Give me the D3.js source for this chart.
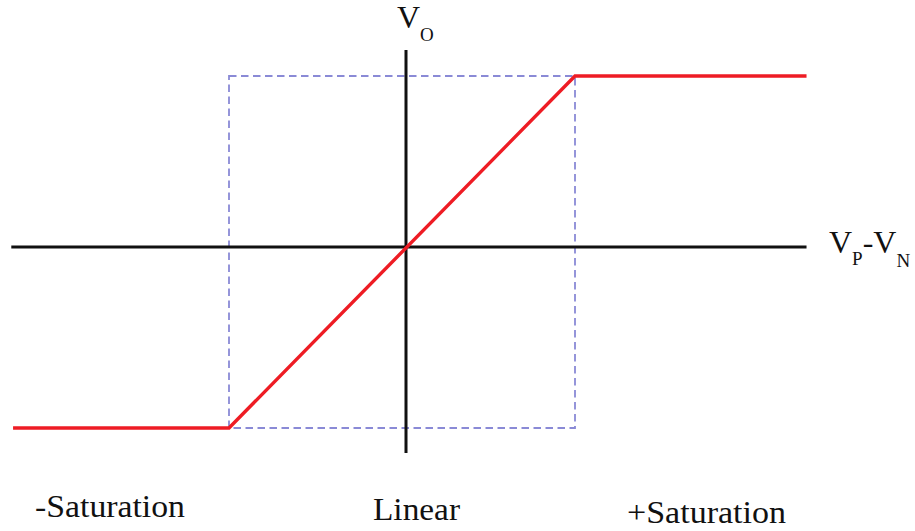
<!DOCTYPE html>
<html>
<head>
<meta charset="utf-8">
<script src="https://cdn.jsdelivr.net/npm/d3@7"></script>
<style>
  html, body { margin: 0; padding: 0; background: #fff; }
  svg { display: block; }
  text { font-family: "Liberation Serif", "Times New Roman", serif; fill: #111; }
</style>
</head>
<body>
<svg id="chart" width="915" height="531"></svg>
<script>
// ---- data (input difference vs. output, normalized units) ----
const transferX = [-2.22, -1, 1, 2.37];   // Vp - Vn
const transferY = [-1, -1, 1, 1];         // Vo
const linearRegionX = [-1, 1];
const linearRegionY = [-1, 1];
const xAxisExtent = [-2.23, 2.37];
const yAxisExtent = [-1.138, 1.152];
const regionLabels = ["-Saturation", "Linear", "+Saturation"];

const svg = d3.select("#chart");
const x = d3.scaleLinear().domain([-1, 0, 1]).range([229, 406, 575]);
const y = d3.scaleLinear().domain([-1, 0, 1]).range([428, 247, 76]);

// dashed linear-region box
svg.append("rect")
  .attr("x", x(linearRegionX[0]))
  .attr("y", y(linearRegionY[1]))
  .attr("width", x(linearRegionX[1]) - x(linearRegionX[0]))
  .attr("height", y(linearRegionY[0]) - y(linearRegionY[1]))
  .attr("fill", "none")
  .attr("stroke", "#8a8ad6")
  .attr("stroke-width", 1.8)
  .attr("stroke-dasharray", "7.5,4.5");

// axes
svg.append("line")
  .attr("x1", x(xAxisExtent[0])).attr("x2", x(xAxisExtent[1]))
  .attr("y1", y(0)).attr("y2", y(0))
  .attr("stroke", "#111").attr("stroke-width", 3);
svg.append("line")
  .attr("x1", x(0)).attr("x2", x(0))
  .attr("y1", y(yAxisExtent[0])).attr("y2", y(yAxisExtent[1]))
  .attr("stroke", "#111").attr("stroke-width", 3);

// transfer curve
const pts = transferX.map((d, i) => [d, transferY[i]]);
svg.append("path")
  .datum(pts)
  .attr("d", d3.line().x(d => x(d[0])).y(d => y(d[1])))
  .attr("fill", "none")
  .attr("stroke", "#ee1c24")
  .attr("stroke-width", 3.4)
  .attr("stroke-linejoin", "miter");

// axis labels
const vo = svg.append("text").attr("x", 397).attr("y", 28).attr("font-size", 32);
vo.append("tspan").text("V");
vo.append("tspan").attr("font-size", 19).attr("dy", 13).text("O");

const vpn = svg.append("text").attr("x", 829).attr("y", 253).attr("font-size", 32);
vpn.append("tspan").text("V");
vpn.append("tspan").attr("font-size", 19).attr("dy", 12).text("P");
vpn.append("tspan").attr("dy", -12).text("-V");
vpn.append("tspan").attr("font-size", 19).attr("dy", 14).text("N");

// region labels
const labelPos = [[35, 517, 150], [373, 520, 87], [627, 523, 159]];
svg.selectAll("text.region")
  .data(regionLabels)
  .enter().append("text")
  .attr("class", "region")
  .attr("x", (d, i) => labelPos[i][0])
  .attr("y", (d, i) => labelPos[i][1])
  .attr("font-size", 32)
  .attr("textLength", (d, i) => labelPos[i][2])
  .attr("lengthAdjust", "spacingAndGlyphs")
  .text(d => d);
</script>
</body>
</html>
